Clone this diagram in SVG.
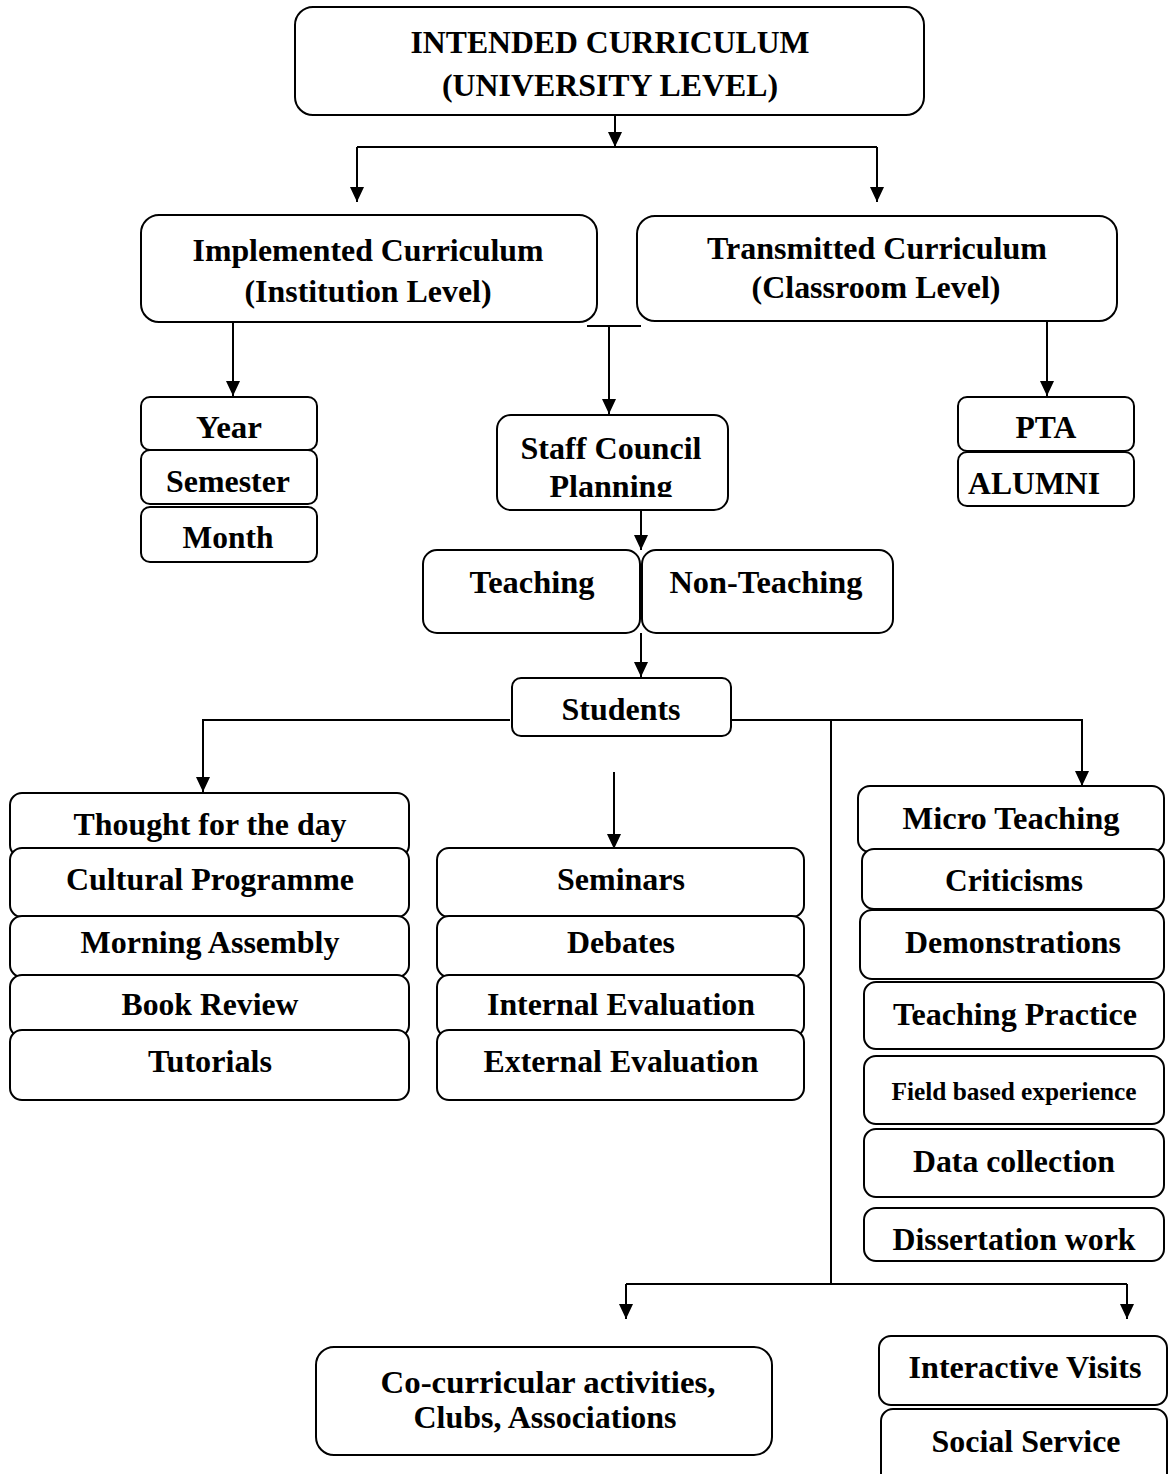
<svg xmlns="http://www.w3.org/2000/svg" width="1168" height="1474" viewBox="0 0 1168 1474">
<style>
.box{fill:#fff;stroke:#000;stroke-width:2}
.t{font-family:"Liberation Serif","Times New Roman",serif;font-weight:bold;font-size:31px;text-anchor:middle;fill:#000}
.c{fill:none;stroke:#000;stroke-width:2}
.a{marker-end:url(#ah)}
</style>
<defs>
<marker id="ah" markerWidth="15" markerHeight="14" refX="15" refY="7" orient="auto" markerUnits="userSpaceOnUse"><path d="M0,0 L15,7 L0,14 z" fill="#000"/></marker>
<clipPath id="clipPlan"><rect x="497" y="415" width="231" height="82"/></clipPath>
<clipPath id="clipDiss"><rect x="864" y="1201" width="301" height="49"/></clipPath>
</defs>
<rect width="1168" height="1474" fill="#fff"/>
<g id="connectors">
<path class="c a" d="M615,115 V147"/>
<path class="c" d="M357,147 H877"/>
<path class="c a" d="M357,147 V202"/>
<path class="c a" d="M877,147 V202"/>
<path class="c a" d="M233,322 V396"/>
<path class="c" d="M587,326 H641"/>
<path class="c a" d="M609,326 V414"/>
<path class="c a" d="M1047,321 V396"/>
<path class="c a" d="M641,510 V550"/>
<path class="c a" d="M641,633 V677"/>
<path class="c a" d="M510,720 H203 V792"/>
<path class="c a" d="M727,720 H1082 V786"/>
<path class="c" d="M831,720 V1284"/>
<path class="c" d="M626,1284 H1127"/>
<path class="c a" d="M626,1284 V1319"/>
<path class="c a" d="M1127,1284 V1319"/>
<path class="c a" d="M614,772 V849"/>
</g>
<g id="intended"><rect class="box" x="295" y="7" width="629" height="108" rx="18"/><text class="t" x="610" y="53" textLength="399" lengthAdjust="spacingAndGlyphs">INTENDED CURRICULUM</text><text class="t" x="610" y="96" textLength="336" lengthAdjust="spacingAndGlyphs">(UNIVERSITY LEVEL)</text></g>
<g id="implemented"><rect class="box" x="141" y="215" width="456" height="107" rx="18"/><text class="t" x="368" y="261" textLength="351" lengthAdjust="spacingAndGlyphs">Implemented Curriculum</text><text class="t" x="368" y="302" textLength="247" lengthAdjust="spacingAndGlyphs">(Institution Level)</text></g>
<g id="transmitted"><rect class="box" x="637" y="216" width="480" height="105" rx="18"/><text class="t" x="877" y="259" textLength="340" lengthAdjust="spacingAndGlyphs">Transmitted Curriculum</text><text class="t" x="876" y="298" textLength="249" lengthAdjust="spacingAndGlyphs">(Classroom Level)</text></g>
<g id="year"><rect class="box" x="141" y="397" width="176" height="53" rx="9"/><text class="t" x="229" y="438" textLength="66" lengthAdjust="spacingAndGlyphs">Year</text></g>
<g id="semester"><rect class="box" x="141" y="450" width="176" height="54" rx="9"/><text class="t" x="228" y="492" textLength="124" lengthAdjust="spacingAndGlyphs">Semester</text></g>
<g id="month"><rect class="box" x="141" y="507" width="176" height="55" rx="9"/><text class="t" x="228" y="548" textLength="91" lengthAdjust="spacingAndGlyphs">Month</text></g>
<g id="staff"><rect class="box" x="497" y="415" width="231" height="95" rx="14"/><text class="t" x="611" y="459" textLength="181" lengthAdjust="spacingAndGlyphs">Staff Council</text><text class="t" x="611" y="497" textLength="123" lengthAdjust="spacingAndGlyphs" clip-path="url(#clipPlan)">Planning</text></g>
<g id="pta"><rect class="box" x="958" y="397" width="176" height="54" rx="9"/><text class="t" x="1046" y="438" textLength="61" lengthAdjust="spacingAndGlyphs">PTA</text></g>
<g id="alumni"><rect class="box" x="958" y="452" width="176" height="54" rx="9"/><text class="t" x="968" y="494" style="text-anchor:start" textLength="132" lengthAdjust="spacingAndGlyphs">ALUMNI</text></g>
<g id="teaching"><rect class="box" x="423" y="550" width="217" height="83" rx="14"/><text class="t" x="532" y="593" textLength="125" lengthAdjust="spacingAndGlyphs">Teaching</text></g>
<g id="nonteaching"><rect class="box" x="642" y="550" width="251" height="83" rx="14"/><text class="t" x="766" y="593" textLength="193" lengthAdjust="spacingAndGlyphs">Non-Teaching</text></g>
<g id="students"><rect class="box" x="512" y="678" width="219" height="58" rx="9"/><text class="t" x="621" y="720" textLength="119" lengthAdjust="spacingAndGlyphs">Students</text></g>
<g id="thought"><rect class="box" x="10" y="793" width="399" height="64" rx="12"/><text class="t" x="210" y="835" textLength="273" lengthAdjust="spacingAndGlyphs">Thought for the day</text></g>
<g id="cultural"><rect class="box" x="10" y="848" width="399" height="69" rx="12"/><text class="t" x="210" y="890" textLength="288" lengthAdjust="spacingAndGlyphs">Cultural Programme</text></g>
<g id="morning"><rect class="box" x="10" y="916" width="399" height="61" rx="12"/><text class="t" x="210" y="953" textLength="259" lengthAdjust="spacingAndGlyphs">Morning Assembly</text></g>
<g id="book"><rect class="box" x="10" y="975" width="399" height="62" rx="12"/><text class="t" x="210" y="1015" textLength="177" lengthAdjust="spacingAndGlyphs">Book Review</text></g>
<g id="tutorials"><rect class="box" x="10" y="1030" width="399" height="70" rx="12"/><text class="t" x="210" y="1072" textLength="124" lengthAdjust="spacingAndGlyphs">Tutorials</text></g>
<g id="seminars"><rect class="box" x="437" y="848" width="367" height="69" rx="12"/><text class="t" x="621" y="890" textLength="128" lengthAdjust="spacingAndGlyphs">Seminars</text></g>
<g id="debates"><rect class="box" x="437" y="916" width="367" height="61" rx="12"/><text class="t" x="621" y="953" textLength="108" lengthAdjust="spacingAndGlyphs">Debates</text></g>
<g id="internal"><rect class="box" x="437" y="975" width="367" height="62" rx="12"/><text class="t" x="621" y="1015" textLength="268" lengthAdjust="spacingAndGlyphs">Internal Evaluation</text></g>
<g id="external"><rect class="box" x="437" y="1030" width="367" height="70" rx="12"/><text class="t" x="621" y="1072" textLength="275" lengthAdjust="spacingAndGlyphs">External Evaluation</text></g>
<g id="micro"><rect class="box" x="858" y="786" width="306" height="66" rx="12"/><text class="t" x="1011" y="829" textLength="217" lengthAdjust="spacingAndGlyphs">Micro Teaching</text></g>
<g id="criticisms"><rect class="box" x="862" y="849" width="302" height="60" rx="12"/><text class="t" x="1014" y="891" textLength="138" lengthAdjust="spacingAndGlyphs">Criticisms</text></g>
<g id="demonstrations"><rect class="box" x="860" y="910" width="304" height="69" rx="12"/><text class="t" x="1013" y="953" textLength="216" lengthAdjust="spacingAndGlyphs">Demonstrations</text></g>
<g id="practice"><rect class="box" x="864" y="982" width="300" height="67" rx="12"/><text class="t" x="1015" y="1025" textLength="244" lengthAdjust="spacingAndGlyphs">Teaching Practice</text></g>
<g id="field"><rect class="box" x="864" y="1056" width="300" height="68" rx="12"/><text class="t" x="1014" y="1100" style="font-size:26px" textLength="245" lengthAdjust="spacingAndGlyphs">Field based experience</text></g>
<g id="data"><rect class="box" x="864" y="1129" width="300" height="68" rx="12"/><text class="t" x="1014" y="1172" textLength="202" lengthAdjust="spacingAndGlyphs">Data collection</text></g>
<g id="dissertation"><rect class="box" x="864" y="1208" width="300" height="53" rx="12"/><text class="t" x="1014" y="1250" textLength="243" lengthAdjust="spacingAndGlyphs" clip-path="url(#clipDiss)">Dissertation work</text></g>
<g id="cocurricular"><rect class="box" x="316" y="1347" width="456" height="108" rx="18"/><text class="t" x="548" y="1393" textLength="335" lengthAdjust="spacingAndGlyphs">Co-curricular activities,</text><text class="t" x="545" y="1428" textLength="263" lengthAdjust="spacingAndGlyphs">Clubs, Associations</text></g>
<g id="interactive"><rect class="box" x="879" y="1336" width="288" height="69" rx="12"/><text class="t" x="1025" y="1378" textLength="233" lengthAdjust="spacingAndGlyphs">Interactive Visits</text></g>
<g id="social"><rect class="box" x="881" y="1409" width="286" height="80" rx="12"/><text class="t" x="1026" y="1452" textLength="189" lengthAdjust="spacingAndGlyphs">Social Service</text></g>
</svg>
